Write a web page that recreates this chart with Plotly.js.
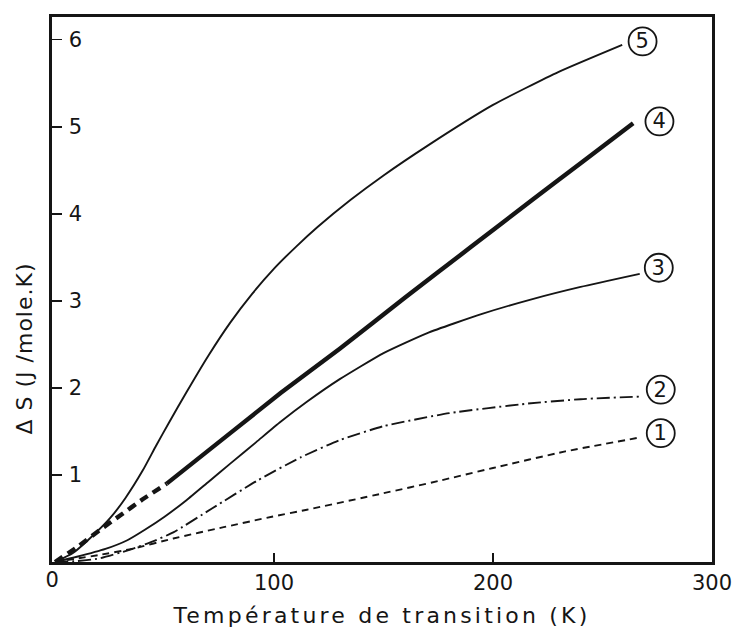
<!DOCTYPE html>
<html>
<head>
<meta charset="utf-8">
<script src="https://cdn.plot.ly/plotly-3.0.1.min.js"></script>
<style>
  html, body { margin: 0; padding: 0; background: #fff; }
  #chart { width: 736px; height: 630px; }
  #chart .xtitle { letter-spacing: 3.2px; }
  #chart .annotation-text { letter-spacing: 1px; }
</style>
</head>
<body>
<div id="chart"></div>
<script>
// Curve 1 (dashed)
const T1 = [0, 10, 20, 35, 54, 77, 99, 115, 150, 175, 200, 233, 267];
const S1 = [0, 0.04, 0.08, 0.15, 0.27, 0.40, 0.52, 0.60, 0.79, 0.93, 1.08, 1.27, 1.43];
// Curve 2 (dash-dot)
const T2 = [0, 10, 20, 34, 45, 54, 72, 92, 112, 130, 150, 180, 216, 240, 267];
const S2 = [0, 0.01, 0.04, 0.14, 0.24, 0.34, 0.62, 0.93, 1.20, 1.40, 1.56, 1.71, 1.82, 1.87, 1.90];
// Curve 3 (thin solid)
const T3 = [0, 10, 23, 33, 41, 50, 60, 70, 80, 92, 103, 115, 130, 150, 170, 195, 218, 240, 267];
const S3 = [0, 0.06, 0.15, 0.25, 0.37, 0.52, 0.71, 0.92, 1.13, 1.38, 1.61, 1.84, 2.10, 2.40, 2.63, 2.85, 3.02, 3.16, 3.31];
// Curve 4 (thick; dashed at low T, solid above)
const T4a = [0, 10, 20, 30, 40, 51];
const S4a = [0, 0.17, 0.36, 0.54, 0.72, 0.90];
const T4b = [51, 80, 103, 130, 160, 190, 218, 240, 264];
const S4b = [0.90, 1.48, 1.94, 2.45, 3.04, 3.62, 4.16, 4.58, 5.04];
// Curve 5 (thin solid)
const T5 = [0, 8, 15, 25, 32, 40, 46, 52, 60, 70, 80, 90, 100, 110, 120, 135, 150, 170, 200, 230, 259];
const S5 = [0, 0.10, 0.25, 0.50, 0.73, 1.05, 1.33, 1.60, 1.95, 2.37, 2.75, 3.08, 3.37, 3.62, 3.85, 4.16, 4.44, 4.78, 5.25, 5.63, 5.94];

// Curve labels
const labelText = ['1', '2', '3', '4', '5'];
const labelT = [276.6, 276.6, 275.7, 276, 268.3];
const labelS = [1.48, 1.98, 3.38, 5.06, 5.98];

const xTickVals = [0, 100, 200, 300];
const xTickText = ['0', '100', '200', '300'];
const yTickVals = [1, 2, 3, 4, 5, 6];
const yTickText = ['1', '2', '3', '4', '5', '6'];

const INK = '#151515';

function curve(x, y, width, dash) {
  return {
    x: x, y: y, type: 'scatter', mode: 'lines',
    line: { color: INK, width: width, dash: dash, shape: 'spline', smoothing: 0.5 },
    hoverinfo: 'skip', showlegend: false
  };
}

const data = [
  curve(T1, S1, 1.9, '7px,5px'),
  curve(T2, S2, 1.9, '13px,4px,2px,4px'),
  curve(T3, S3, 1.9, 'solid'),
  curve(T4a, S4a, 4.4, '9px,6px'),
  curve(T4b, S4b, 4.4, 'solid'),
  curve(T5, S5, 1.9, 'solid')
];

const shapes = labelText.map((t, i) => ({
  type: 'circle', xref: 'x', yref: 'y',
  xsizemode: 'pixel', ysizemode: 'pixel',
  xanchor: labelT[i], yanchor: labelS[i],
  x0: -14, x1: 14, y0: -14, y1: 14,
  line: { color: INK, width: 1.8 }, fillcolor: 'rgba(0,0,0,0)'
}));

const annotations = labelText.map((t, i) => ({
  x: labelT[i], y: labelS[i], xref: 'x', yref: 'y',
  text: t, showarrow: false,
  font: { family: 'DejaVu Sans', size: 21, color: INK },
  xanchor: 'center', yanchor: 'middle'
}));

// y-axis title (placed to match the original's vertical offset)
annotations.push({
  xref: 'paper', yref: 'paper',
  x: (24 - 52) / 660, y: (562 - 349) / 545,
  text: 'Δ S (J /mole.K)', textangle: -90, showarrow: false,
  font: { family: 'DejaVu Sans', size: 22, color: INK },
  xanchor: 'center', yanchor: 'middle'
});

// x tick label at the origin (Plotly hides it next to the inside y labels)
annotations.push({
  xref: 'x', yref: 'paper',
  x: xTickVals[0], y: 0, xshift: -3, yshift: -18,
  text: xTickText[0], showarrow: false,
  font: { family: 'DejaVu Sans', size: 21, color: INK },
  xanchor: 'center', yanchor: 'middle'
});

const layout = {
  width: 736, height: 630,
  margin: { l: 52, r: 24, t: 17, b: 68 },
  paper_bgcolor: '#ffffff', plot_bgcolor: '#ffffff',
  showlegend: false,
  font: { family: 'DejaVu Sans', color: INK },
  xaxis: {
    range: [-1.4, 300], showline: true, mirror: true, linewidth: 2.6, linecolor: INK,
    showgrid: false, zeroline: false,
    ticks: 'inside', ticklen: 9, tickwidth: 1.6, tickcolor: INK,
    tickmode: 'array', tickvals: xTickVals, ticktext: xTickText,
    tickfont: { family: 'DejaVu Sans', size: 21, color: INK },
    ticklabelstandoff: 0,
    title: { text: 'Température de transition (K)', font: { family: 'DejaVu Sans', size: 22, color: INK }, standoff: 14 },
    automargin: false, fixedrange: true
  },
  yaxis: {
    range: [0, 6.26], showline: true, mirror: true, linewidth: 2.6, linecolor: INK,
    showgrid: false, zeroline: false,
    ticks: 'inside', ticklen: 10, tickwidth: 1.6, tickcolor: INK,
    ticklabelposition: 'inside', ticklabelstandoff: 8,
    tickmode: 'array', tickvals: yTickVals, ticktext: yTickText,
    tickfont: { family: 'DejaVu Sans', size: 21, color: INK },
    automargin: false, fixedrange: true
  },
  shapes: shapes,
  annotations: annotations
};

Plotly.newPlot('chart', data, layout, { displayModeBar: false, staticPlot: true });
</script>
</body>
</html>
